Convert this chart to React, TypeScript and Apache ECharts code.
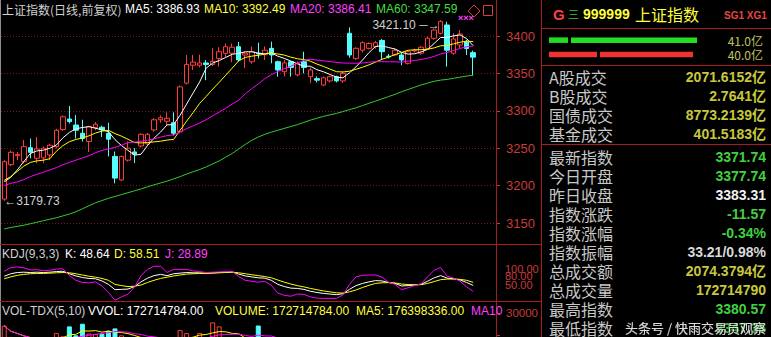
import React, { useEffect, useRef } from "react";
import * as echarts from "echarts";

const FONT = "'Liberation Sans', 'Noto Sans CJK SC', sans-serif";
const CJK = "'Noto Sans CJK SC', 'Liberation Sans', sans-serif";

// 76 category slots (73 sessions + 3 empty slots on the right, as in the terminal)
const days: string[] = Array.from({ length: 76 }, (_, i) => `D${i + 1}`);

const opens = [
  3182, 3228, 3240, 3232, 3250.7, 3236.5, 3237, 3241, 3252, 3275,
  3289, 3281, 3270, 3259, 3277.5, 3278, 3270, 3239, 3207.5, 3234,
  3245, 3253, 3255.6, 3274.5, 3288, 3286, 3284, 3272, 3337, 3361,
  3361, 3364, 3362, 3370, 3376.8, 3377, 3385.7, 3374.6, 3365.6, 3377,
  3375, 3383.5, 3365.6, 3352.3, 3365.6, 3348, 3365.6, 3345.6, 3343, 3334.5,
  3340, 3345.6, 3340, 3403.6, 3370, 3381, 3383.5, 3386, 3394, 3373,
  3374.6, 3374.6, 3363.5, 3380, 3377, 3383.5, 3397, 3403.6, 3414.7, 3377,
  3388, 3392, 3377.74,
];
const closes = [
  3232, 3244.5, 3241.5, 3252, 3244.5, 3249, 3250, 3254, 3274, 3292,
  3285.5, 3274, 3263, 3279, 3282, 3274.5, 3262, 3210, 3239, 3250,
  3242, 3268.6, 3268.6, 3288, 3290.8, 3290, 3270, 3332, 3362, 3365,
  3364, 3362, 3366, 3379, 3385.7, 3385, 3368, 3377, 3379, 3376,
  3381, 3374.6, 3354.6, 3364, 3358, 3363.5, 3358, 3354.6, 3341, 3344,
  3345.6, 3340, 3350, 3374.6, 3383.5, 3391, 3390, 3391, 3379, 3372,
  3381, 3368, 3379, 3381, 3385, 3397, 3408, 3419.25, 3381, 3396,
  3402.6, 3383.31, 3371.74,
];
const lows = [
  3179.73, 3226, 3234, 3230, 3236.5, 3230, 3230, 3234, 3250, 3273,
  3283, 3263, 3259, 3245, 3274, 3265, 3239, 3203, 3206, 3232,
  3230, 3251, 3253, 3272, 3284, 3281, 3267, 3270, 3335, 3354.6,
  3358, 3341, 3360, 3359, 3372, 3365, 3366, 3357, 3363, 3370,
  3368, 3363.5, 3345.6, 3346, 3345.6, 3346, 3350, 3336.8, 3338, 3333,
  3338, 3338, 3337, 3371, 3368, 3378, 3382, 3383, 3368, 3370,
  3373, 3361, 3362, 3378, 3375, 3382, 3395, 3402, 3359, 3375,
  3384, 3374.6, 3347.36,
];
const highs = [
  3234, 3247, 3245, 3261, 3263, 3265, 3252, 3256, 3276, 3294,
  3306.4, 3294.4, 3288, 3280, 3285, 3280, 3284, 3245.5, 3240, 3259,
  3250, 3270, 3270, 3290, 3294, 3298, 3298, 3334, 3374.6, 3374.6,
  3375, 3368, 3383.6, 3385, 3390, 3390, 3392, 3379, 3386, 3391,
  3386, 3392.4, 3367, 3368, 3367, 3366, 3379, 3358, 3346, 3346,
  3347, 3347, 3353, 3411.6, 3385, 3393, 3391.5, 3393.5, 3396, 3376,
  3383, 3378, 3381, 3383, 3386.5, 3399, 3410, 3421.1, 3419, 3403.6,
  3408, 3395, 3380.57,
];

// moving-average values before enough in-window closes exist
const ma5Head = [3205, 3211, 3221, 3232];
const ma10Head = [3207, 3212, 3219, 3226, 3231, 3233, 3234, 3236, 3246];
const ma20Head = [
  3200, 3203, 3205, 3208, 3212, 3215, 3218, 3221, 3224, 3228,
  3231, 3234, 3237, 3240, 3244, 3247, 3249, 3251, 3254,
];
const ma60 = [
  3142, 3144, 3145.5, 3147, 3149, 3151, 3153, 3155, 3157, 3159.5,
  3162, 3165, 3169, 3173, 3177, 3180, 3183, 3185.5, 3188, 3190.5,
  3193, 3195.5, 3198.5, 3201, 3203.5, 3206, 3209, 3212, 3215.5, 3218.5,
  3221.5, 3225, 3229, 3233, 3238, 3243, 3249, 3255, 3260.5, 3265,
  3268.5, 3271.5, 3274, 3276.5, 3279, 3281.5, 3284.5, 3287.5, 3290, 3292.5,
  3294.5, 3296.5, 3299, 3301.5, 3304, 3307, 3310, 3313, 3316, 3319,
  3322, 3325.5, 3328.5, 3331.5, 3334.5, 3337, 3339.5, 3341, 3342, 3343.5,
  3345, 3346.5, 3347.59,
];

const kValues = [
  78, 86, 90, 91, 90, 91, 90, 91, 93, 94,
  86, 79, 74, 71, 70, 63, 52, 35, 36, 37,
  45, 60, 72, 80, 84, 80, 86, 88, 90, 89,
  89, 88, 89, 90, 91, 92, 85, 79, 76, 73,
  72, 65, 52, 45, 40, 39, 36, 30, 26, 23,
  21, 19, 22, 36, 48, 55, 60, 64, 63, 58,
  55, 47, 48, 50, 52, 62, 73, 80, 72, 70,
  66, 58, 48.64,
];
const dValues = [
  70, 76, 81, 84, 86, 87, 87, 88, 89, 90,
  89, 86, 82, 78, 75, 71, 65, 52, 48, 45,
  46, 50, 58, 65, 71, 75, 79, 82, 85, 86,
  87, 87, 88, 89, 90, 91, 89, 86, 83, 80,
  77, 73, 66, 59, 53, 48, 44, 39, 35, 31,
  28, 25, 24, 28, 34, 42, 49, 55, 57, 57.5,
  56.5, 53, 51.5, 51, 51, 55, 61, 67, 69, 69,
  68, 65, 58.51,
];

// volume, millions of shares
const volumesM = [
  243, 193, 190, 165, 160, 170, 190, 175, 211, 196,
  240, 200, 252, 208, 206, 206, 221, 231, 200, 180,
  165, 175, 170, 180, 160, 165, 175, 224, 210, 185,
  211, 190, 258, 240, 180, 175, 183, 160, 170, 244,
  175, 185, 170, 160, 155, 150, 160, 150, 135, 130,
  128, 125, 140, 190, 175, 180, 170, 172, 185, 160,
  155, 165, 160, 150, 158, 175, 185, 190, 185, 178,
  170, 176.5, 172.714784,
];

const priceTicks = [3150, 3200, 3250, 3300, 3350, 3400];
const kdjTicks = [100, 80, 50];

const headerMA = [
  { text: "MA5: 3386.93", color: "#ffffff" },
  { text: "MA10: 3392.49", color: "#ffff40" },
  { text: "MA20: 3386.41", color: "#ff40ff" },
  { text: "MA60: 3347.59", color: "#40dd40" },
];

// two-segment breadth bars of the info panel (first part, second part)
const breadthUp = [19, 126];
const breadthDown = [48, 93];
const breadthLabels = ["41.0亿", "40.0亿"];

const turnoverLabels = ["A股成交", "B股成交", "国债成交", "基金成交"];
const turnoverValues = ["2071.6152亿", "2.7641亿", "8773.2139亿", "401.5183亿"];

const quoteLabels = ["最新指数", "今日开盘", "昨日收盘", "指数涨跌", "指数涨幅", "指数振幅", "总成交额", "总成交量", "最高指数", "最低指数"];
const quoteValues = ["3371.74", "3377.74", "3383.31", "-11.57", "-0.34%", "33.21/0.98%", "2074.3794亿", "172714790", "3380.57", "3347.36"];
const quoteColors = ["#40d040", "#40d040", "#f0f0f0", "#40d040", "#40d040", "#d8d8d8", "#c8c83c", "#c8c83c", "#40d040", "#40d040"];

const RED = "#ff3c3c";
const CYAN = "#54fcfc";
const LINE_RED = "#a81e1e";
const AXIS_RED = "#c83c3c";
const SEG_GAP = 3;

function movingAvg(values: number[], n: number, head: number[]): number[] {
  return values.map((_, i) => {
    if (i < head.length) return head[i];
    let s = 0;
    for (let k = i - n + 1; k <= i; k++) s += values[k];
    return +(s / n).toFixed(2);
  });
}
function partialAvg(values: number[], n: number): number[] {
  return values.map((_, i) => {
    const from = Math.max(0, i - n + 1);
    let s = 0;
    for (let k = from; k <= i; k++) s += values[k];
    return s / (i - from + 1);
  });
}

function txt(text: string, x: number, y: number, fill: string, font: string, align = "left") {
  return {
    type: "text",
    x,
    y,
    z: 100,
    silent: true,
    style: { text, fill, font, align, textAlign: align, verticalAlign: "middle", textVerticalAlign: "middle" },
  };
}
function ln(x1: number, y1: number, x2: number, y2: number, stroke: string) {
  return { type: "line", z: 90, silent: true, shape: { x1, y1, x2, y2 }, style: { stroke, lineWidth: 1 } };
}

function buildOption() {
  const candles = opens.map((o, i) => [o, closes[i], lows[i], highs[i]]);
  const ma5 = movingAvg(closes, 5, ma5Head);
  const ma10 = movingAvg(closes, 10, ma10Head);
  const ma20 = movingAvg(closes, 20, ma20Head);
  const jValues = kValues.map((k, i) => +(3 * k - 2 * dValues[i]).toFixed(2));
  const vols = volumesM.map((v) => v * 1e6);
  const volMa5 = partialAvg(vols, 5);
  const volMa10 = partialAvg(vols, 10);
  const volBars = vols.map((v, i) => {
    const up = closes[i] >= opens[i];
    return {
      value: v,
      itemStyle: up
        ? { color: "#000000", borderColor: RED, borderWidth: 1 }
        : { color: CYAN, borderColor: CYAN, borderWidth: 1 },
    };
  });

  const hideX = {
    type: "category",
    data: days,
    boundaryGap: true,
    axisLine: { show: false },
    axisTick: { show: false },
    axisLabel: { show: false },
    splitLine: { show: false },
  };

  const graphics: any[] = [
    ln(0.5, 0, 0.5, 337, "#8c8c8c"),
    ln(496.5, 0, 496.5, 337, LINE_RED),
    ln(541.5, 0, 541.5, 337, LINE_RED),
    ln(0, 244.5, 541, 244.5, LINE_RED),
    ln(0, 301.5, 541, 301.5, LINE_RED),
    ln(541, 28.5, 771, 28.5, LINE_RED),
    ln(541, 65.5, 771, 65.5, LINE_RED),
    ln(541, 144.5, 771, 144.5, LINE_RED),
    // main header
    txt("上证指数(日线,前复权)", 2, 9, "#d0d0d0", `12px ${CJK}`),
    txt(headerMA[0].text, 125, 9, headerMA[0].color, `12px ${FONT}`),
    txt(headerMA[1].text, 204, 9, headerMA[1].color, `12px ${FONT}`),
    txt(headerMA[2].text, 290, 9, headerMA[2].color, `12px ${FONT}`),
    txt(headerMA[3].text, 376, 9, headerMA[3].color, `12px ${FONT}`),
    {
      type: "polygon", z: 100, silent: true,
      shape: { points: [[474, 5], [480, 11], [474, 17], [468, 11]] },
      style: { fill: "none", stroke: "#d23c3c", lineWidth: 1 },
    },
    { type: "rect", z: 100, silent: true, shape: { x: 483.5, y: 5.5, width: 9, height: 10 }, style: { fill: "none", stroke: "#d23c3c", lineWidth: 1 } },
    txt("×××", 458, 18, "#ff40ff", `bold 9px ${FONT}`),
    // KDJ header
    txt("KDJ(9,3,3)", 2, 254, "#d0d0d0", `12px ${FONT}`),
    txt("K: 48.64", 65, 254, "#ffffff", `12px ${FONT}`),
    txt("D: 58.51", 114, 254, "#ffff40", `12px ${FONT}`),
    txt("J: 28.89", 165, 254, "#ff40ff", `12px ${FONT}`),
    // VOL header
    txt("VOL-TDX(5,10)", 2, 311, "#d0d0d0", `12px ${FONT}`),
    txt("VVOL: 172714784.00", 88, 311, "#ffffff", `12px ${FONT}`),
    txt("VOLUME: 172714784.00", 215, 311, "#ffff40", `12px ${FONT}`),
    txt("MA5: 176398336.00", 356, 311, "#ffff40", `12px ${FONT}`),
    txt("MA10", 471, 311, "#ff40ff", `12px ${FONT}`),
    // right panel header
    txt("G", 553, 14, "#ff4040", `bold 15px ${FONT}`),
    txt("三", 568, 14, "#40c040", `11px ${CJK}`),
    txt("999999", 583, 14, "#ffff3c", `bold 14px ${FONT}`),
    txt("上证指数", 635, 14, "#ffff3c", `16px ${CJK}`),
    txt("SG1 XG1", 724, 15, "#e64646", `bold 10px ${FONT}`),
    txt(breadthLabels[0], 763, 40, "#c0c060", `12px ${CJK}`, "right"),
    txt(breadthLabels[1], 763, 54, "#c0c060", `12px ${CJK}`, "right"),
  ];
  turnoverLabels.forEach((l, i) => {
    const y = 76.5 + i * 19.2;
    graphics.push(txt(l, 549, y, "#c8c8c8", `16px ${CJK}`));
    graphics.push(txt(turnoverValues[i], 766, y, "#c8c83c", `bold 14px ${FONT}`, "right"));
  });
  quoteLabels.forEach((l, i) => {
    const y = 157 + i * 18.95;
    graphics.push(txt(l, 549, y, "#c8c8c8", `16px ${CJK}`));
    graphics.push(txt(quoteValues[i], 766, y, quoteColors[i], `bold 14px ${FONT}`, "right"));
  });
  graphics.push({
    type: "text", x: 766, y: 327, z: 120, silent: true,
    style: {
      text: "头条号 / 快雨交易员观察", fill: "rgba(235,235,235,0.92)", font: `13px ${CJK}`,
      align: "right", textAlign: "right", verticalAlign: "middle", textVerticalAlign: "middle",
      textShadowColor: "#000", textShadowBlur: 3,
    },
  });

  const breadthColors = ["#22dd22", "#ee3333"];
  const segSeries = (vals: number[], transparent = false) => ({
    type: "bar", xAxisIndex: 3, yAxisIndex: 3, stack: "b", barWidth: 5.5, silent: true,
    data: vals.map((v, r) => ({ value: v, itemStyle: { color: transparent ? "rgba(0,0,0,0)" : breadthColors[r] } })),
  });

  return {
    animation: false,
    backgroundColor: "#000000",
    grid: [
      { left: 1, width: 495, top: -1.4, height: 224.4, outerBoundsMode: "none" },
      { left: 1, width: 495, top: 256.9, height: 43.7, outerBoundsMode: "none" },
      { left: 1, width: 495, top: 313, height: 67, outerBoundsMode: "none" },
      { left: 549, width: 150, top: 33, height: 28.6, outerBoundsMode: "none" },
    ],
    xAxis: [
      { ...hideX, gridIndex: 0 },
      { ...hideX, gridIndex: 1 },
      { ...hideX, gridIndex: 2 },
      { type: "value", gridIndex: 3, min: 0, max: 150, show: false },
    ],
    yAxis: [
      {
        type: "value", gridIndex: 0, position: "right", min: 3150, max: 3450, interval: 50,
        axisLine: { show: false },
        axisTick: { show: true, length: 4, lineStyle: { color: AXIS_RED } },
        axisLabel: {
          color: AXIS_RED, fontSize: 13, fontFamily: FONT, margin: 10,
          formatter: (v: number) => (priceTicks.includes(v) ? String(v) : ""),
        },
        splitLine: { show: true, lineStyle: { color: "#7a1818", type: [1, 2], width: 1 } },
      },
      {
        type: "value", gridIndex: 1, position: "right", min: 0, max: 140, interval: 10,
        axisLine: { show: false }, axisTick: { show: false },
        axisLabel: {
          color: AXIS_RED, fontSize: 11, fontFamily: FONT, margin: 9,
          formatter: (v: number) => (kdjTicks.includes(v) ? v.toFixed(2) : ""),
        },
        splitLine: { show: false },
      },
      {
        type: "value", gridIndex: 2, position: "right", min: 0, max: 3e8, interval: 1e8,
        axisLine: { show: false },
        axisTick: { show: true, length: 4, lineStyle: { color: AXIS_RED } },
        axisLabel: {
          color: AXIS_RED, fontSize: 11.5, fontFamily: FONT, margin: 10,
          formatter: (v: number) => (v === 3e8 ? String(v / 10000) : ""),
        },
        splitLine: { show: false },
      },
      { type: "category", gridIndex: 3, data: ["up", "down"], inverse: true, show: false },
    ],
    graphic: graphics,
    series: [
      {
        type: "candlestick", xAxisIndex: 0, yAxisIndex: 0, data: candles, barWidth: 5, z: 2,
        itemStyle: { color: "#000000", color0: CYAN, borderColor: RED, borderColor0: CYAN, borderWidth: 1 },
        markPoint: {
          symbol: "circle", symbolSize: 0, silent: true,
          data: [
            {
              coord: [days[67], 3421.1], value: 3421.1,
              label: { show: true, position: "left", distance: 1, offset: [0, 5], formatter: "3421.10 ─→", color: "#d0d0d0", fontSize: 12, fontFamily: FONT },
            },
            {
              coord: [days[0], 3179.73], value: 3179.73,
              label: { show: true, position: "right", distance: 0, formatter: "←3179.73", color: "#d0d0d0", fontSize: 12, fontFamily: FONT },
            },
          ],
        },
      },
      { type: "line", xAxisIndex: 0, yAxisIndex: 0, data: ma5, showSymbol: false, clip: false, z: 3, lineStyle: { color: "#ffffff", width: 1 } },
      { type: "line", xAxisIndex: 0, yAxisIndex: 0, data: ma10, showSymbol: false, clip: false, z: 3, lineStyle: { color: "#ffff00", width: 1 } },
      { type: "line", xAxisIndex: 0, yAxisIndex: 0, data: ma20, showSymbol: false, clip: false, z: 3, lineStyle: { color: "#ff00ff", width: 1 } },
      { type: "line", xAxisIndex: 0, yAxisIndex: 0, data: ma60, showSymbol: false, clip: false, z: 3, lineStyle: { color: "#33cc33", width: 1 } },
      { type: "line", xAxisIndex: 1, yAxisIndex: 1, data: kValues, showSymbol: false, clip: false, lineStyle: { color: "#ffffff", width: 1 } },
      { type: "line", xAxisIndex: 1, yAxisIndex: 1, data: dValues, showSymbol: false, clip: false, lineStyle: { color: "#ffff00", width: 1 } },
      { type: "line", xAxisIndex: 1, yAxisIndex: 1, data: jValues, showSymbol: false, clip: false, lineStyle: { color: "#ff00ff", width: 1 } },
      { type: "bar", xAxisIndex: 2, yAxisIndex: 2, data: volBars, barWidth: 5 },
      { type: "line", xAxisIndex: 2, yAxisIndex: 2, data: volMa5, showSymbol: false, lineStyle: { color: "#ffff00", width: 1 } },
      { type: "line", xAxisIndex: 2, yAxisIndex: 2, data: volMa10, showSymbol: false, lineStyle: { color: "#ff00ff", width: 1 } },
      segSeries([breadthUp[0], breadthDown[0]]),
      segSeries([SEG_GAP, SEG_GAP], true),
      segSeries([breadthUp[1], breadthDown[1]]),
    ],
  };
}

export default function App() {
  const ref = useRef<HTMLDivElement>(null);
  useEffect(() => {
    if (!ref.current) return;
    const chart = echarts.init(ref.current, null, { renderer: "svg" });
    chart.setOption(buildOption() as any);
    return () => chart.dispose();
  }, []);
  return (
    <div
      ref={ref}
      style={{ position: "fixed", left: 0, top: 0, width: 771, height: 337, background: "#000" }}
    />
  );
}
